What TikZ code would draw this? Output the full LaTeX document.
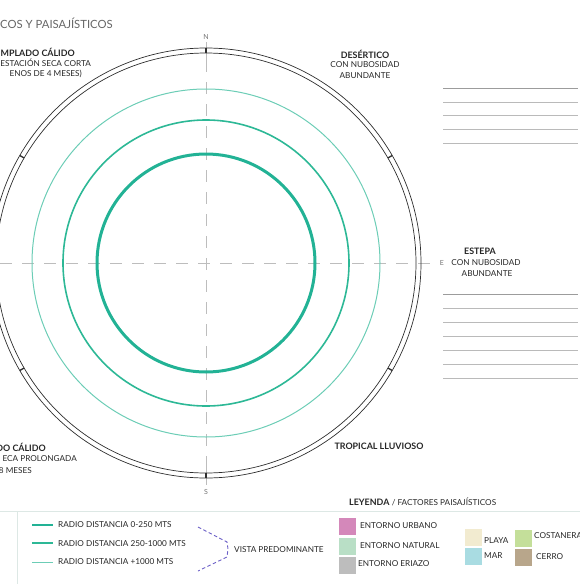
\documentclass[tikz,border=0pt]{standalone}
\usepackage{fontspec}
\setmainfont{Lato}
\usetikzlibrary{calc}
\definecolor{tealA}{HTML}{22B295}
\definecolor{tealB}{HTML}{2DB896}
\definecolor{tealC}{HTML}{6CCDB6}
\definecolor{ringc}{HTML}{2E2E2E}
\definecolor{axisc}{HTML}{BDBDBD}
\definecolor{rulec}{HTML}{9C9C9C}
\definecolor{legline}{HTML}{DDE8E5}
\definecolor{purp}{HTML}{6B5FC7}
\definecolor{cUrb}{HTML}{D488BA}
\definecolor{cNat}{HTML}{B9DFC6}
\definecolor{cEri}{HTML}{BDBDBD}
\definecolor{cPla}{HTML}{F2EBD0}
\definecolor{cMar}{HTML}{A9DCE2}
\definecolor{cCos}{HTML}{C4DF9A}
\definecolor{cCer}{HTML}{B8A68B}
\begin{document}
\begin{tikzpicture}[x=1pt,y=-1pt,
  lbl/.style={font=\fontsize{8.2}{11}\selectfont, inner sep=0pt, text=black!85, align=center},
  bl/.style={lbl, font=\fontsize{8.9}{11}\selectfont\bfseries},
  axl/.style={font=\fontsize{7}{8}\selectfont, inner sep=0pt, text=black!55},
  ringline/.style={draw=ringc, line width=0.7pt},
  tick/.style={draw=ringc, line width=1.3pt},
  axisline/.style={draw=axisc, line width=0.6pt},
  dashaxis/.style={draw=axisc, line width=0.6pt, dash pattern=on 12pt off 10pt},
  rule/.style={draw=rulec!70, line width=0.7pt},
  sw/.style={draw=none, minimum width=17pt, minimum height=17pt, inner sep=0pt, anchor=north west}
]
\useasboundingbox (0,0) rectangle (580,584);
\coordinate (c) at (206,263);

% axes
\draw[dashaxis] (0,263) -- (437,263);
\draw[dashaxis] (206,60) -- (206,470);
\draw[axisline] (206,42) -- (206,70);
\draw[axisline] (206,458) -- (206,485);

% green circles
\draw[tealC, line width=1pt] (c) circle[radius=174pt];
\draw[tealB, line width=1.6pt] (c) circle[radius=143pt];
\draw[tealA, line width=3pt] (c) circle[radius=109pt];

% ring
\draw[ringline] (c) circle[radius=215pt];
\draw[ringline] (c) circle[radius=210pt];
\foreach \a in {30,90,150,210,270,330}
  \draw[tick] ($(c)+(\a:210pt)$) -- ($(c)+(\a:215pt)$);

% axis letters
\node[axl] (nN) at (206,37) {N};
\node[axl] (nS) at (206,492) {S};
\node[axl] (nE) at (442,263) {E};

% title
\node[font=\fontsize{11.3}{14}\selectfont, text=black!60, inner sep=0pt, anchor=west] (title) at (0,23) {COS Y PAISAJÍSTICOS};

% climate labels
\node[bl, anchor=east] (tl1) at (75,52) {MPLADO CÁLIDO};
\node[lbl, anchor=east] (tl2) at (91,63) {ESTACIÓN SECA CORTA};
\node[lbl, anchor=east] (tl3) at (82,74) {ENOS DE 4 MESES)};

\node[bl] (des1) at (365,54) {DESÉRTICO};
\node[lbl] (des2) at (365,65) {CON NUBOSIDAD};
\node[lbl] (des3) at (365,76) {ABUNDANTE};
\node[bl] (est1) at (480,251) {ESTEPA};
\node[lbl] (est2) at (486,263) {CON NUBOSIDAD};
\node[lbl] (est3) at (487,274) {ABUNDANTE};

\node[bl, anchor=east] (bl1) at (46,447) {DO CÁLIDO};
\node[lbl, anchor=east] (bl2) at (77,459) {ECA PROLONGADA};
\node[lbl, anchor=east] (bl3) at (32,471) {8 MESES};

\node[bl] (trop) at (379,446) {TROPICAL LLUVIOSO};

% right rules
\foreach \y in {88,102,115,129,143}
  \draw[rule] (443,\y) -- (578,\y);
\draw[draw=rulec, line width=0.7pt] (443,88) -- (578,88);
\foreach \y in {294,308,322,336,350,364,378}
  \draw[rule] (443,\y) -- (578,\y);
\draw[draw=rulec, line width=0.7pt] (443,294) -- (578,294);

% legend frame
\node[lbl, anchor=west] (ley) at (349,502) {\fontsize{8.9}{11}\selectfont\textbf{LEYENDA} \fontsize{8.2}{11}\selectfont / FACTORES PAISAJÍSTICOS};
\draw[legline, line width=0.8pt] (0,511) -- (580,511);
\draw[legline, line width=0.8pt] (17,511) -- (17,584);

% radio legend
\coordinate (r1a) at (32,525); \coordinate (r1b) at (53,525);
\coordinate (r2a) at (32,543); \coordinate (r2b) at (53,543);
\coordinate (r3a) at (32,562); \coordinate (r3b) at (53,562);
\draw[tealA, line width=2.6pt] (r1a) -- (r1b);
\draw[tealB, line width=1.6pt] (r2a) -- (r2b);
\draw[tealC, line width=1pt] (r3a) -- (r3b);
\node[lbl, anchor=west] (t1) at (58,525) {RADIO DISTANCIA 0-250 MTS};
\node[lbl, anchor=west] (t2) at (58,544) {RADIO DISTANCIA 250-1000 MTS};
\node[lbl, anchor=west] (t3) at (58,562) {RADIO DISTANCIA +1000 MTS};

% bracket
\coordinate (p1) at (198,527); \coordinate (p2) at (227,542);
\coordinate (p3) at (228,549); \coordinate (p4) at (227,557);
\coordinate (p5) at (198,571);
\draw[purp, line width=0.9pt, dash pattern=on 3.5pt off 2.5pt] (p1) -- (p2) -- (p3) -- (p4) -- (p5);
\node[lbl, anchor=west] (vista) at (234,550) {VISTA PREDOMINANTE};

% swatches
\node[sw, fill=cUrb] (sU) at (339,518) {};
\node[sw, fill=cNat] (sN) at (339,538) {};
\node[sw, fill=cEri] (sE) at (339,557) {};
\node[lbl, anchor=west] (lU) at (360,526) {ENTORNO URBANO};
\node[lbl, anchor=west] (lN) at (360,546) {ENTORNO NATURAL};
\node[lbl, anchor=west] (lE) at (358,564) {ENTORNO ERIAZO};

\node[sw, fill=cPla] (sP) at (465,529) {};
\node[sw, fill=cMar] (sM) at (465,548) {};
\node[lbl, anchor=west] (lP) at (484,541) {PLAYA};
\node[lbl, anchor=west] (lM) at (484,556) {MAR};

\node[sw, fill=cCos] (sC) at (515,530) {};
\node[sw, fill=cCer] (sR) at (515,549) {};
\node[lbl, anchor=west] (lC) at (534,536) {COSTANERA};
\node[lbl, anchor=west] (lR) at (536,557) {CERRO};
\end{tikzpicture}
\end{document}
